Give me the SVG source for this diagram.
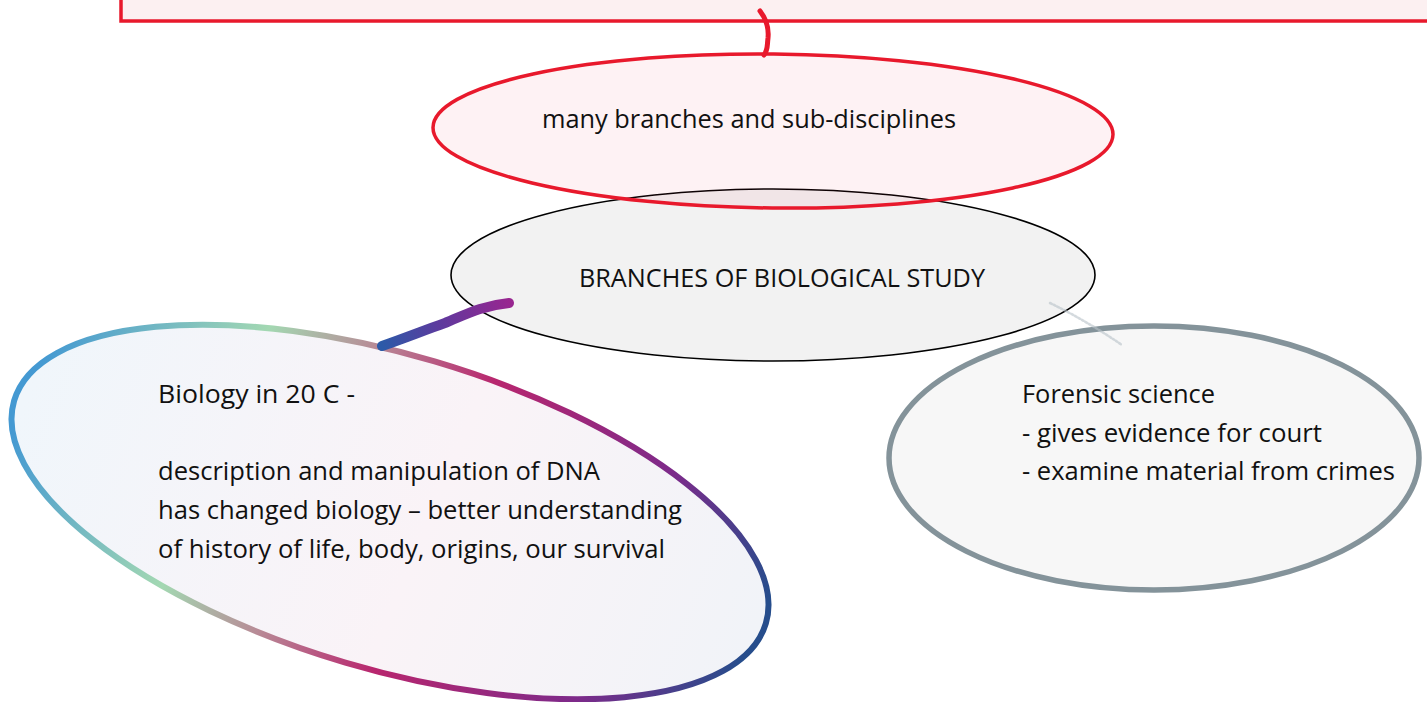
<svg xmlns="http://www.w3.org/2000/svg" width="1427" height="702" viewBox="0 0 1427 702">
<defs>
<style>
.t{font-family:"Open Sans","Noto Sans","Liberation Sans",sans-serif;font-size:25px;fill:#111;}
</style>
<linearGradient id="gStroke" gradientUnits="userSpaceOnUse" x1="10" y1="480" x2="770" y2="560">
<stop offset="0" stop-color="#4499d2"/>
<stop offset="0.26" stop-color="#a3d8b2"/>
<stop offset="0.4" stop-color="#b88a96"/>
<stop offset="0.56" stop-color="#b8266e"/>
<stop offset="0.82" stop-color="#7d2a8a"/>
<stop offset="1" stop-color="#264d8c"/>
</linearGradient>
<linearGradient id="gFill" gradientUnits="userSpaceOnUse" x1="10" y1="480" x2="770" y2="560">
<stop offset="0" stop-color="#f0f6fb"/>
<stop offset="0.55" stop-color="#faf3f7"/>
<stop offset="1" stop-color="#f1f3f8"/>
</linearGradient>
<linearGradient id="gConn" gradientUnits="userSpaceOnUse" x1="382" y1="345" x2="510" y2="303">
<stop offset="0" stop-color="#2c5aa8"/>
<stop offset="0.45" stop-color="#5d3a9e"/>
<stop offset="1" stop-color="#982690"/>
</linearGradient>
</defs>

<g id="top-box">
<rect x="121" y="-20" width="1330" height="41" fill="#fcf0f1" stroke="#e8192c" stroke-width="3.5"/>
</g>

<g id="branches-of-biological-study">
<ellipse cx="773" cy="275" rx="322" ry="86" fill="#f2f2f2" stroke="#000" stroke-width="1.6"/>
<text class="t" x="579" y="287" textLength="406" lengthAdjust="spacingAndGlyphs">BRANCHES OF BIOLOGICAL STUDY</text>
</g>

<g id="many-branches">
<ellipse cx="773" cy="131" rx="340" ry="77" fill="#e8283c" fill-opacity="0.06" stroke="#e8192c" stroke-width="3.5" transform="rotate(0.6 773 131)"/>
<text class="t" x="542" y="128" textLength="414" lengthAdjust="spacingAndGlyphs">many branches and sub-disciplines</text>
</g>

<g id="biology-20c">
<ellipse cx="390" cy="512" rx="392" ry="157" fill="url(#gFill)" stroke="url(#gStroke)" stroke-width="6" transform="rotate(16.5 390 512)"/>
<text class="t" x="158" y="403" textLength="197" lengthAdjust="spacingAndGlyphs">Biology in 20 C -</text>
<text class="t" x="158" y="480" textLength="442" lengthAdjust="spacingAndGlyphs">description and manipulation of DNA</text>
<text class="t" x="158" y="519" textLength="524" lengthAdjust="spacingAndGlyphs">has changed biology – better understanding</text>
<text class="t" x="158" y="558" textLength="507" lengthAdjust="spacingAndGlyphs">of history of life, body, origins, our survival</text>
</g>

<g id="forensic-science">
<ellipse cx="1154" cy="458" rx="265" ry="132" fill="#f7f7f7" stroke="#84939a" stroke-width="5.5"/>
<text class="t" x="1022" y="403" textLength="193" lengthAdjust="spacingAndGlyphs">Forensic science</text>
<text class="t" x="1022" y="442" textLength="300" lengthAdjust="spacingAndGlyphs">- gives evidence for court</text>
<text class="t" x="1022" y="480" textLength="373" lengthAdjust="spacingAndGlyphs">- examine material from crimes</text>
</g>

<g id="connectors" fill="none" stroke-linecap="round">
<path d="M760 11 C767 20 769 28 768 38 C767 46 768 50 764 55" stroke="#e8192c" stroke-width="5"/>
<path d="M382 346 C405 338 425 330 445 323 C465 315 480 306 509 303" stroke="url(#gConn)" stroke-width="10"/>
<path d="M1050 303 C1075 315 1100 330 1122 345" stroke="#b8c2c8" stroke-width="2.5" stroke-dasharray="2 2" opacity="0.6"/>
</g>
</svg>
